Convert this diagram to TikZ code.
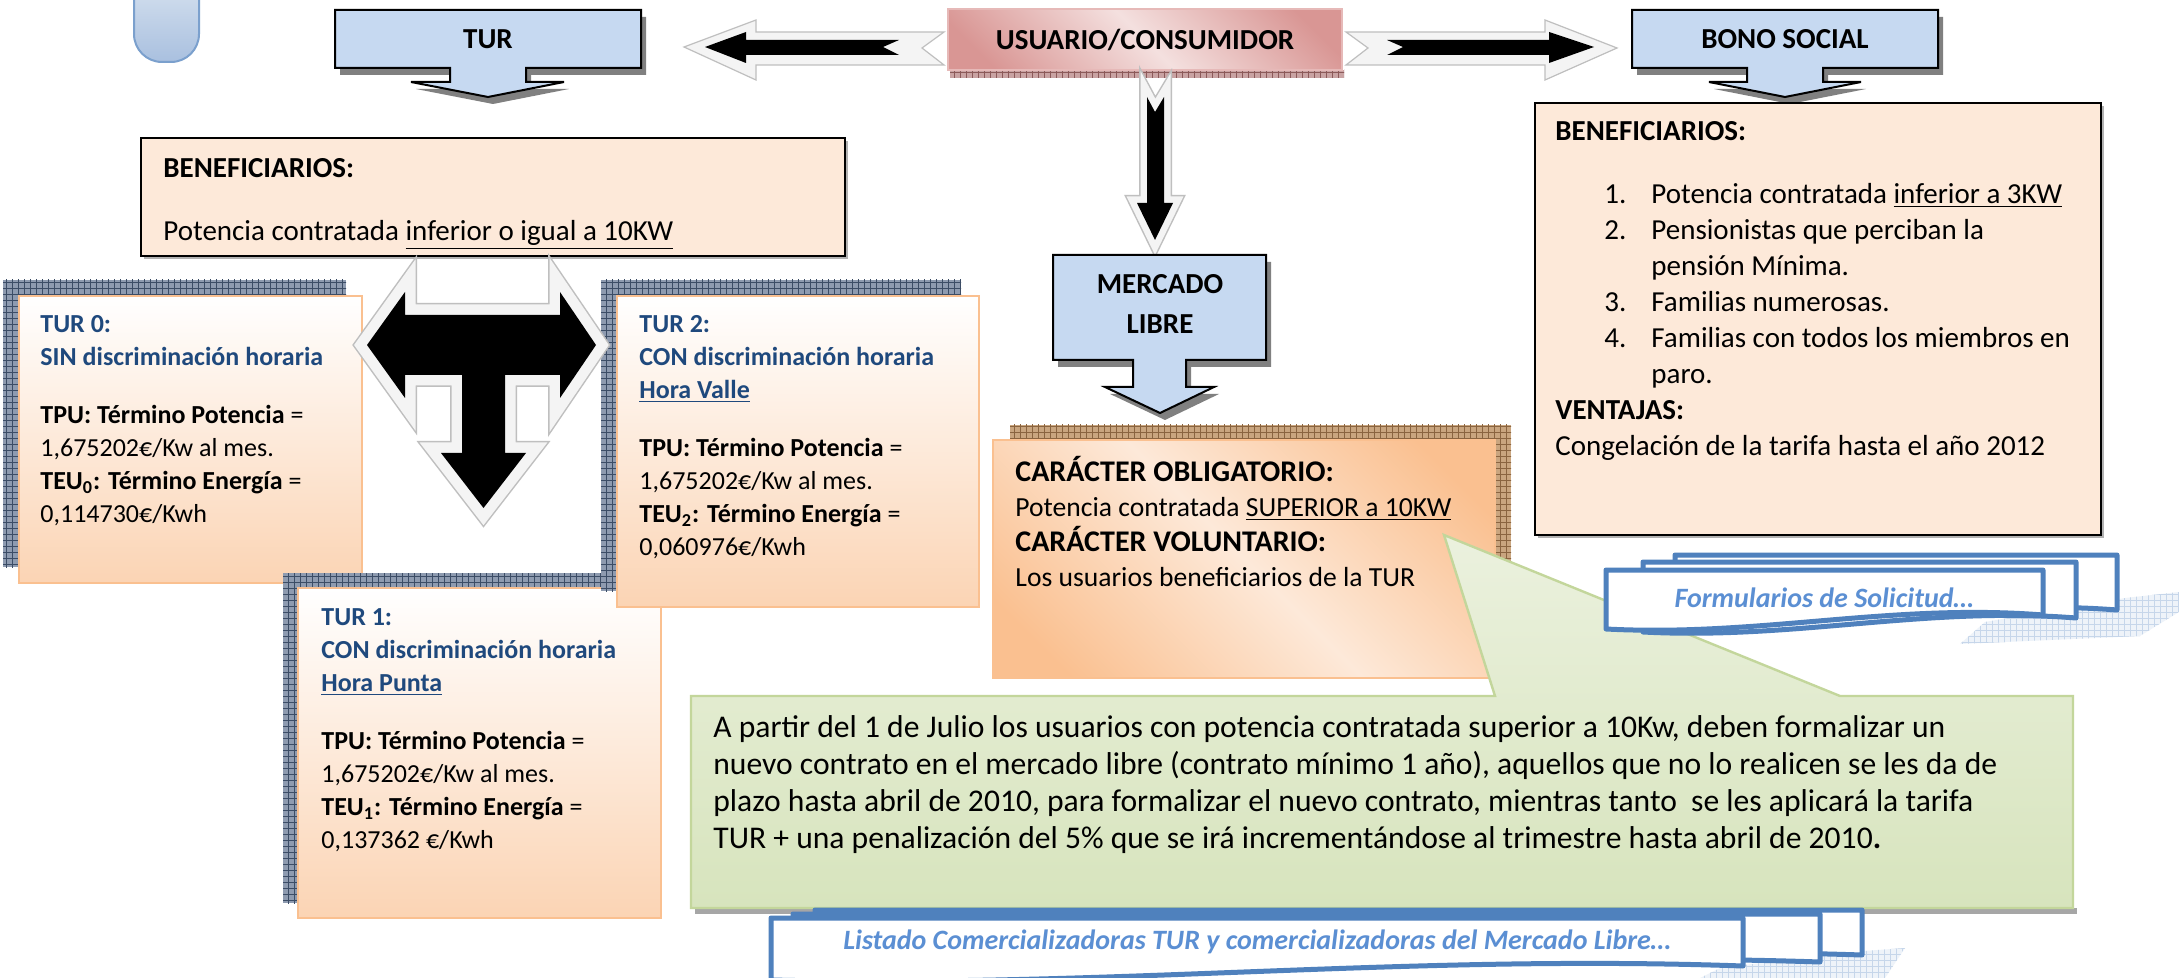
\documentclass[tikz,border=0pt]{standalone}
\usepackage{fontspec}
\setmainfont{Carlito}
\usepackage{tikz}
\usetikzlibrary{patterns}

\definecolor{boxblue}{HTML}{C6D9F1}
\definecolor{peach}{HTML}{FDE9D9}
\definecolor{peachdark}{HTML}{FAC090}
\definecolor{peachbot}{HTML}{FBD4B4}
\definecolor{titleblue}{HTML}{1F497D}
\definecolor{pinkdark}{HTML}{D99694}
\definecolor{pinklight}{HTML}{F4E0DF}
\definecolor{pinkline}{HTML}{E6B9B8}
\definecolor{pinkhatch}{HTML}{C9A3A3}
\definecolor{pinkgrid}{HTML}{8C5A5A}
\definecolor{greentop}{HTML}{EBF1DE}
\definecolor{greenbot}{HTML}{D7E4BD}
\definecolor{greenline}{HTML}{C3D69B}
\definecolor{bannerblue}{HTML}{4F81BD}
\definecolor{bannertext}{HTML}{5B8FD3}
\definecolor{bannergrid}{HTML}{C6D6EA}
\definecolor{navyhatch}{HTML}{8E9BB0}
\definecolor{navyline}{HTML}{3C4D66}
\definecolor{brownhatch}{HTML}{C9A57F}
\definecolor{brownline}{HTML}{8A6440}
\definecolor{arrowgrey}{HTML}{BFBFBF}
\definecolor{arrowwhite}{HTML}{F4F4F4}
\definecolor{tabtop}{HTML}{DBE5F1}
\definecolor{tabbot}{HTML}{A9C0DF}
\definecolor{tabline}{HTML}{7BA0CD}

\pgfdeclarehorizontalshading{orangediag}{100bp}{color(0bp)=(peachdark); color(22bp)=(peachdark); color(50bp)=(peach); color(78bp)=(peachdark); color(100bp)=(peachdark)}
\pgfdeclarehorizontalshading{pinkdiag}{100bp}{color(0bp)=(pinkdark); color(22bp)=(pinkdark); color(50bp)=(pinklight); color(78bp)=(pinkdark); color(100bp)=(pinkdark)}

\newcommand{\turhead}[1]{\textcolor{titleblue}{\textbf{#1}}}
\newcommand{\bonoitem}[1]{\hspace*{24.5pt}\makebox[23.5pt][l]{#1}}
\newcommand{\docshape}[4]{(#1,#2) -- (#3,#2) -- (#3,#4) .. controls ({#3-0.35*(#3-#1)},{#4-12}) and ({#1+0.35*(#3-#1)},{#4+22}) .. (#1,{#4+14}) -- cycle}

\begin{document}
\begin{tikzpicture}[x=0.5pt, y=-0.5pt,
    headtxt/.style={font=\fontsize{14.5}{20}\selectfont\bfseries, align=center},
    arrowbox/.style={fill=boxblue, draw=black, line width=1pt, line join=miter},
    boxshadow/.style={fill=black!50},
    textbox/.style={fill=peach, draw=black, line width=1pt},
    turbox/.style={top color=white, bottom color=peachbot, draw=peachdark, line width=1.2pt},
    navyshadow/.style={fill=navyhatch, postaction={pattern=grid, pattern color=navyline}},
    flatarrow/.style={fill=arrowwhite, draw=arrowgrey, line width=0.6pt},
    threed/.style={fill=black, preaction={draw=arrowgrey, line width=#1, line join=miter}, preaction={draw=arrowwhite, line width=#1-1.5pt, line join=miter}},
    body/.style={anchor=north west, inner sep=0pt, align=left},
    docbox/.style={fill=white, draw=bannerblue, line width=2.5pt, line join=round},
    doctext/.style={font=\fontsize{14}{17}\selectfont\bfseries\itshape, text=bannertext}
  ]

    \useasboundingbox (0,0) rectangle (2179,978);
    \fill[white] (0,0) rectangle (2179,978);

    % tab at the top left
    \draw[draw=tabline, top color=tabtop, bottom color=tabbot, line width=1pt, rounded corners=14pt] (134,-30) -- (134,62) -- (199,62) -- (199,-30);

    % top row
    \fill[boxshadow, shift={(5,7)}] (335,10) -- (641,10) -- (641,68) -- (526,68) -- (526,82) -- (564,82) -- (488,97) -- (411,82) -- (450,82) -- (450,68) -- (335,68) -- cycle;
    \path[arrowbox] (335,10) -- (641,10) -- (641,68) -- (526,68) -- (526,82) -- (564,82) -- (488,97) -- (411,82) -- (450,82) -- (450,68) -- (335,68) -- cycle;
    \node[headtxt] (tur) at (488,39) {TUR};

    \fill[boxshadow, shift={(5,7)}] (1632,10) -- (1938,10) -- (1938,68) -- (1823,68) -- (1823,82) -- (1861,82) -- (1785,97) -- (1709,82) -- (1747,82) -- (1747,68) -- (1632,68) -- cycle;
    \path[arrowbox] (1632,10) -- (1938,10) -- (1938,68) -- (1823,68) -- (1823,82) -- (1861,82) -- (1785,97) -- (1709,82) -- (1747,82) -- (1747,68) -- (1632,68) -- cycle;
    \node[headtxt] (bono) at (1785,39) {BONO SOCIAL};

    \path[fill=pinkhatch, postaction={pattern=grid, pattern color=pinkgrid}] (950,70) rectangle (1344,78);
    \shadedraw[shading=pinkdiag, shading angle=45, draw=pinkline, line width=1pt] (948,9) rectangle (1342,70);
    \node[headtxt] (user) at (1145,40) {USUARIO/CONSUMIDOR};

    % arrows out of the user box
    \path[flatarrow] (684,47) -- (756,20) -- (756,32) -- (944,32) -- (922,48) -- (944,65) -- (756,65) -- (756,80) -- cycle;
    \fill[black] (705,47) -- (746,32) -- (746,40) -- (899,40) -- (883,47) -- (899,55) -- (746,55) -- (746,63) -- cycle;

    \path[flatarrow] (1346,32) -- (1545,32) -- (1545,20) -- (1617,48) -- (1545,80) -- (1545,65) -- (1346,65) -- (1368,48) -- cycle;
    \fill[black] (1387,40) -- (1549,40) -- (1549,32) -- (1594,47) -- (1549,63) -- (1549,55) -- (1387,55) -- (1403,47) -- cycle;

    \path[threed=8pt] (1147,97) -- (1155,112) -- (1164,97) -- (1164,203) -- (1173,203) -- (1155,240) -- (1137,203) -- (1147,203) -- cycle;

    % TUR
    \fill[black!30] (144,141) rectangle (848,259);
    \path[textbox] (141,138) rectangle (845,256);
    \node[body, font=\fontsize{14.5}{17.5}\selectfont] (turben) at (163,152.5) {\strut\textbf{BENEFICIARIOS:}\\[14pt] Potencia contratada \underline{inferior o igual a 10KW}};

    \path[navyshadow] (3,280) rectangle (346,567);
    \path[turbox] (19,296) rectangle (362,583);
    \node[body, font=\fontsize{13}{16.5}\selectfont] (tur0) at (40,309) {\strut\turhead{TUR 0:}\\ \turhead{SIN discriminación horaria}\\[12.5pt] \textbf{TPU: Término Potencia} =\\ 1,675202€/Kw al mes.\\ \textbf{TEU\textsubscript{0}: Término Energía} =\\ 0,114730€/Kwh};

    \path[navyshadow] (283,573) rectangle (646,903);
    \path[turbox] (298,588) rectangle (661,918);
    \node[body, font=\fontsize{13}{16.5}\selectfont] (tur1) at (321,602) {\strut\turhead{TUR 1:}\\ \turhead{CON discriminación horaria}\\ \turhead{\underline{Hora Punta}}\\[12.5pt] \textbf{TPU: Término Potencia} =\\ 1,675202€/Kw al mes.\\ \textbf{TEU\textsubscript{1}: Término Energía} =\\ 0,137362 €/Kwh};

    \path[navyshadow] (601,280) rectangle (961,591);
    \path[turbox] (617,296) rectangle (979,607);
    \node[body, font=\fontsize{13}{16.5}\selectfont] (tur2) at (639,309) {\strut\turhead{TUR 2:}\\ \turhead{CON discriminación horaria}\\ \turhead{\underline{Hora Valle}}\\[12.5pt] \textbf{TPU: Término Potencia} =\\ 1,675202€/Kw al mes.\\ \textbf{TEU\textsubscript{2}: Término Energía} =\\ 0,060976€/Kwh};

    \path[threed=12pt] (367,345) -- (405,292) -- (405,315) -- (560,315) -- (560,292) -- (596,345) -- (560,398) -- (560,375) -- (505,375) -- (505,453) -- (526,453) -- (483.5,508) -- (441,453) -- (462,453) -- (462,375) -- (405,375) -- (405,398) -- cycle;

    % mercado libre
    \fill[boxshadow, shift={(5,7)}] (1053,255) -- (1266,255) -- (1266,360) -- (1186,360) -- (1186,387) -- (1214,387) -- (1160,413) -- (1105,387) -- (1133,387) -- (1133,360) -- (1053,360) -- cycle;
    \path[arrowbox] (1053,255) -- (1266,255) -- (1266,360) -- (1186,360) -- (1186,387) -- (1214,387) -- (1160,413) -- (1105,387) -- (1133,387) -- (1133,360) -- (1053,360) -- cycle;
    \node[headtxt] (libre) at (1160,304) {MERCADO\\LIBRE};

    \path[fill=brownhatch, postaction={pattern=grid, pattern color=brownline}] (1010,425) rectangle (1511,663);
    \shadedraw[shading=orangediag, shading angle=45, draw=peachdark, line width=1pt] (993,440) rectangle (1495,678);
    \node[body, font=\fontsize{13.8}{17.5}\selectfont] (libretxt) at (1015,455.5) {\strut{\fontsize{15}{17.5}\selectfont\textbf{CARÁCTER OBLIGATORIO:}}\\ Potencia contratada \underline{SUPERIOR a 10KW}\\ {\fontsize{15}{17.5}\selectfont\textbf{CARÁCTER VOLUNTARIO:}}\\ Los usuarios beneficiarios de la TUR};

    % bono social
    \fill[black!30] (1538,106) rectangle (2104,538);
    \path[textbox] (1535,103) rectangle (2101,535);
    \node[body, font=\fontsize{14.5}{18}\selectfont] (bonotxt) at (1555,115) {\strut\textbf{BENEFICIARIOS:}\\[13.5pt]
      \bonoitem{1.}Potencia contratada \underline{inferior a 3KW}\\
      \bonoitem{2.}Pensionistas que perciban la\\
      \hspace*{48pt}pensión Mínima.\\
      \bonoitem{3.}Familias numerosas.\\
      \bonoitem{4.}Familias con todos los miembros en\\
      \hspace*{48pt}paro.\\
      \textbf{VENTAJAS:}\\
      Congelación de la tarifa hasta el año 2012};

    % note
    \fill[black!35] (695,908) rectangle (2077,914);
    \path[top color=greentop, bottom color=greenbot, draw=greenline, line width=1.2pt] (691,696) -- (1495,696) -- (1444,535) -- (1840,696) -- (2073,696) -- (2073,908) -- (691,908) -- cycle;
    \node[body, font=\fontsize{15.8}{18.5}\selectfont] (note) at (713,711) {\strut A partir del 1 de Julio los usuarios con potencia contratada superior a 10Kw, deben formalizar un\\ nuevo contrato en el mercado libre (contrato mínimo 1 año), aquellos que no lo realicen se les da de\\ plazo hasta abril de 2010, para formalizar el nuevo contrato, mientras tanto \ se les aplicará la tarifa\\ TUR + una penalización del 5\% que se irá incrementándose al trimestre hasta abril de 2010\textbf{.}};

    % links
    \path[fill=bannergrid!30, postaction={pattern=grid, pattern color=bannergrid}] (1985,622) -- (2125,598) -- (2179,592) -- (2179,612) -- (2140,636) -- (1960,644) -- cycle;
    \path[docbox] \docshape{1675}{555}{2117}{610};
    \path[docbox] \docshape{1643}{562}{2076}{618};
    \path[docbox] \docshape{1606}{570}{2043}{615};
    \node[doctext] (forms) at (1824,598) {Formularios de Solicitud…};

    \path[fill=bannergrid!30, postaction={pattern=grid, pattern color=bannergrid}] (1720,968) -- (1850,952) -- (1905,948) -- (1885,978) -- (1700,978) -- cycle;
    \path[docbox] \docshape{815}{910}{1862}{955};
    \path[docbox] \docshape{793}{914}{1820}{962};
    \path[docbox] \docshape{771}{918}{1743}{966};
    \node[doctext] (sellers) at (1257,942) {Listado Comercializadoras TUR y comercializadoras del Mercado Libre…};

\end{tikzpicture}
\end{document}
